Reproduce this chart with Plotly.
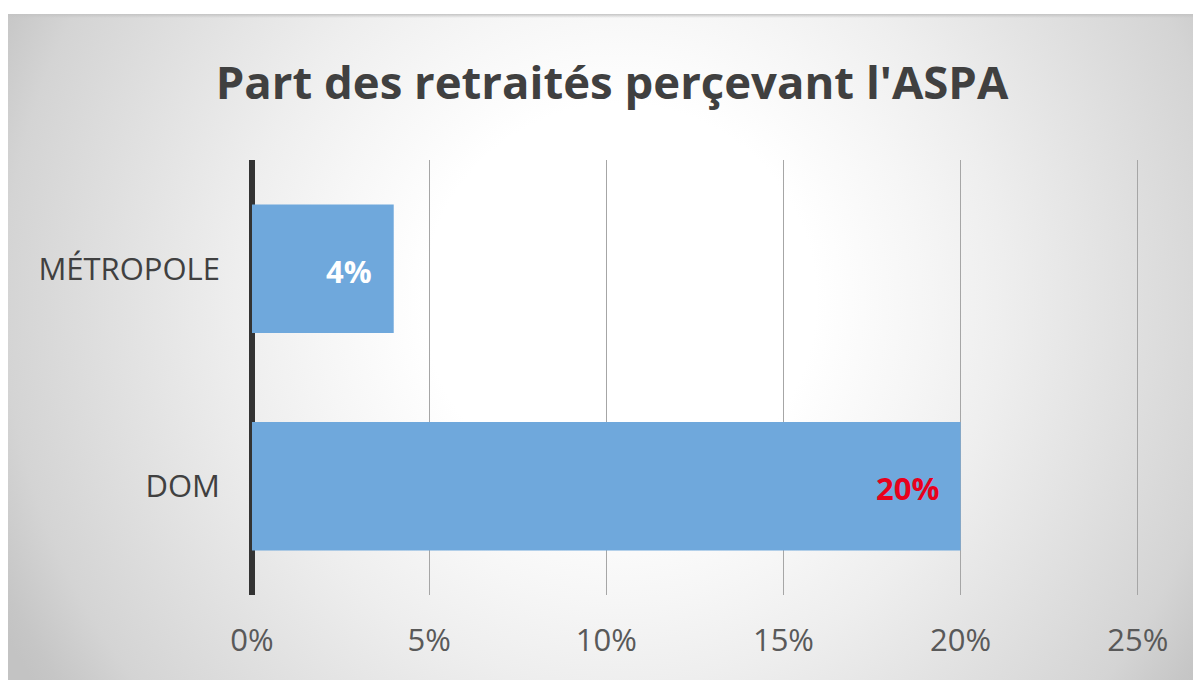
import base64
import plotly.graph_objects as go

categories = ["MÉTROPOLE", "DOM"]
values = [0.04, 0.20]
label_colors = ["#ffffff", "#e8001c"]
tick_vals = [0, 0.05, 0.10, 0.15, 0.20, 0.25]
tick_text = ["0%", "5%", "10%", "15%", "20%", "25%"]
title_text = "Part des retraités perçevant l'ASPA"

IW, IH = 1194, 666
svg = (
    f"<svg xmlns='http://www.w3.org/2000/svg' width='{IW}' height='{IH}' viewBox='0 0 {IW} {IH}' preserveAspectRatio='none'>"
    "<defs><radialGradient id='g' cx='613' cy='286' r='700' gradientUnits='userSpaceOnUse'>"
    "<stop offset='0' stop-color='#ffffff'/>"
    "<stop offset='0.28' stop-color='#ffffff'/>"
    "<stop offset='0.43' stop-color='#f6f6f6'/>"
    "<stop offset='0.55' stop-color='#eeeeee'/>"
    "<stop offset='0.88' stop-color='#d4d4d4'/>"
    "<stop offset='0.97' stop-color='#c6c6c6'/>"
    "<stop offset='1' stop-color='#c3c3c3'/>"
    "</radialGradient>"
    "<linearGradient id='s' x1='0' y1='0' x2='0' y2='1'>"
    "<stop offset='0' stop-color='#c4c4c4' stop-opacity='1'/>"
    "<stop offset='1' stop-color='#c4c4c4' stop-opacity='0'/>"
    "</linearGradient></defs>"
    f"<rect width='{IW}' height='{IH}' fill='url(#g)'/>"
    f"<rect width='{IW}' height='4' fill='url(#s)'/></svg>"
)
bg_uri = "data:image/svg+xml;base64," + base64.b64encode(svg.encode()).decode()

W, H = 1201, 680
XMAX = 0.2512
L, T, B = 244, 152, 93
pw = round(885.5 * XMAX / 0.25)
R = W - L - pw
ph = H - T - B

fig = go.Figure()
fig.add_trace(go.Bar(
    x=values, y=categories, orientation="h",
    marker=dict(color="#6fa8dc", line=dict(width=0)),
    width=0.59, hoverinfo="skip", showlegend=False,
))

for v, c, col in zip(values, categories, label_colors):
    fig.add_annotation(
        x=v, y=c, xref="x", yref="y", text=f"<b>{round(v*100)}%</b>",
        showarrow=False, xanchor="right", xshift=-20, yshift=-2,
        font=dict(family="Open Sans", size=31, color=col),
    )

fig.add_layout_image(dict(
    source=bg_uri, xref="paper", yref="paper",
    x=(-1 - L) / pw, y=(H - B - 6) / ph,
    sizex=IW / pw, sizey=IH / ph,
    xanchor="left", yanchor="top", sizing="stretch", layer="below",
))

fig.update_layout(
    width=W, height=H,
    margin=dict(l=L, r=R, t=T, b=B, pad=0),
    paper_bgcolor="white", plot_bgcolor="rgba(0,0,0,0)",
    title=dict(text=title_text, x=604 / W, xanchor="center", y=1 - 75 / H, yanchor="middle",
               font=dict(family="Open Sans", size=45.5, color="#404040", weight="bold")),
    xaxis=dict(range=[0, XMAX], tickvals=tick_vals, ticktext=tick_text,
               showgrid=True, gridcolor="#a6a6a6", gridwidth=1.3,
               zeroline=True, zerolinecolor="#333333", zerolinewidth=6,
               showline=False, ticks="", ticklabelstandoff=24,
               tickfont=dict(family="Open Sans", size=31, color="#595959"), fixedrange=True),
    yaxis=dict(autorange="reversed", showgrid=False, zeroline=False,
               showline=False, ticks="", ticklabelstandoff=31,
               tickfont=dict(family="Open Sans", size=31, color="#404040"), fixedrange=True),
    bargap=0.41,
)

fig.write_html("out.html")
